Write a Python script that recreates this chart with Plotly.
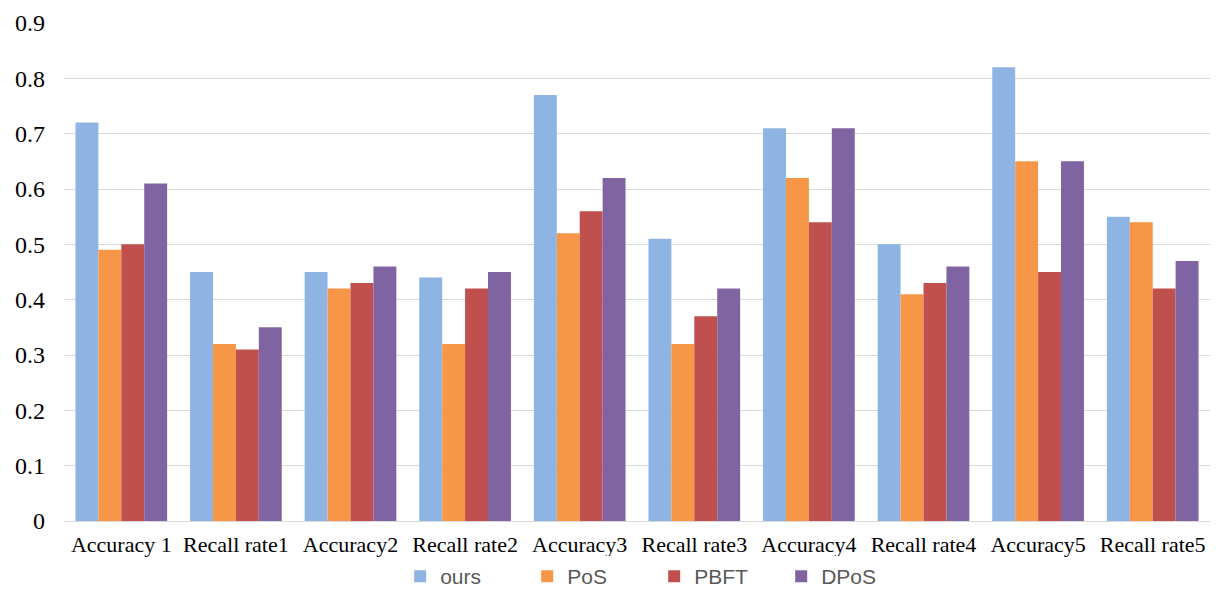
import plotly.graph_objects as go

categories = ["Accuracy 1", "Recall rate1", "Accuracy2", "Recall rate2", "Accuracy3",
              "Recall rate3", "Accuracy4", "Recall rate4", "Accuracy5", "Recall rate5"]
ours = [0.72, 0.45, 0.45, 0.44, 0.77, 0.51, 0.71, 0.50, 0.82, 0.55]
pos = [0.49, 0.32, 0.42, 0.32, 0.52, 0.32, 0.62, 0.41, 0.65, 0.54]
pbft = [0.50, 0.31, 0.43, 0.42, 0.56, 0.37, 0.54, 0.43, 0.45, 0.42]
dpos = [0.61, 0.35, 0.46, 0.45, 0.62, 0.42, 0.71, 0.46, 0.65, 0.47]
y_ticks = [0, 0.1, 0.2, 0.3, 0.4, 0.5, 0.6, 0.7, 0.8, 0.9]
y_tick_text = ["0", "0.1", "0.2", "0.3", "0.4", "0.5", "0.6", "0.7", "0.8", "0.9"]

series = [("ours", ours, "#8EB4E3"), ("PoS", pos, "#F79646"),
          ("PBFT", pbft, "#C0504D"), ("DPoS", dpos, "#8064A2")]

fig = go.Figure()
for name, vals, color in series:
    fig.add_trace(go.Bar(x=categories, y=vals, name=name, marker_color=color,
                         marker_line_width=0))

fig.update_layout(
    width=1222, height=597,
    margin=dict(l=64, r=12, t=23, b=76, autoexpand=False),
    paper_bgcolor="white", plot_bgcolor="white",
    barmode="group", bargap=0.2, bargroupgap=0,
    font=dict(family="Liberation Serif, Times New Roman, serif", color="#000000"),
    xaxis=dict(tickfont=dict(size=22, family="Liberation Serif, serif", color="#000"),
               showline=True, linecolor="#D9D9D9", linewidth=1, ticks="",
               ticklabelstandoff=4),
    yaxis=dict(range=[0, 0.9], tickvals=y_ticks, ticktext=y_tick_text,
               tickfont=dict(size=24, family="Liberation Serif, serif", color="#000"),
               showgrid=True, gridcolor="#D9D9D9", gridwidth=1, zeroline=False,
               ticks="", ticklabelstandoff=18),
    legend=dict(orientation="h", x=0.515, xanchor="center",
                yref="container", y=0, yanchor="bottom", borderwidth=0,
                font=dict(size=21, family="Liberation Sans, Arial, sans-serif", color="#595959"),
                itemwidth=30, tracegroupgap=0, entrywidth=82),
)

fig.write_html("out.html")
